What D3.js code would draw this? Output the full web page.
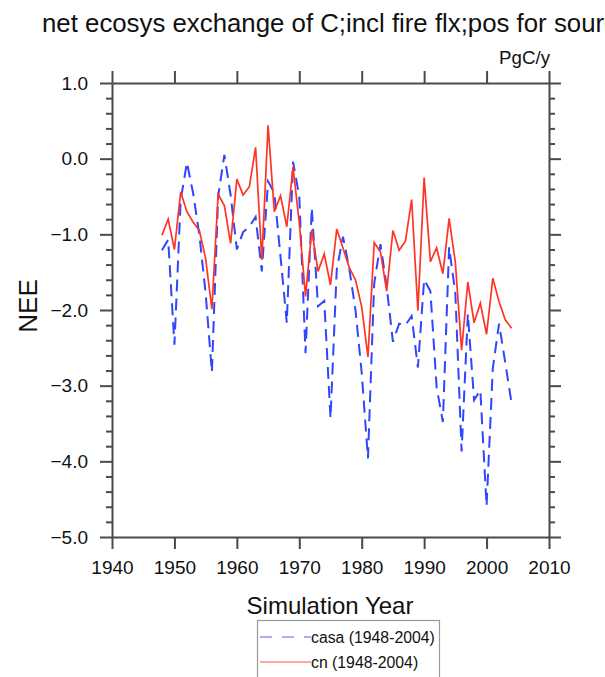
<!DOCTYPE html>
<html>
<head>
<meta charset="utf-8">
<script src="https://cdn.jsdelivr.net/npm/d3@7"></script>
<style>
  html, body { margin: 0; padding: 0; background: #fff; }
  svg { display: block; font-family: "Liberation Sans", Arial, Helvetica, sans-serif; }
</style>
</head>
<body>
<svg id="chart" width="605" height="677"></svg>
<script>
const years = [1948,1949,1950,1951,1952,1953,1954,1955,1956,1957,1958,1959,1960,1961,1962,1963,1964,1965,1966,1967,1968,1969,1970,1971,1972,1973,1974,1975,1976,1977,1978,1979,1980,1981,1982,1983,1984,1985,1986,1987,1988,1989,1990,1991,1992,1993,1994,1995,1996,1997,1998,1999,2000,2001,2002,2003,2004];

const casa = [-1.21,-1.07,-2.46,-0.55,-0.05,-0.46,-1.01,-1.78,-2.82,-0.50,0.05,-0.48,-1.20,-0.97,-0.90,-0.77,-1.49,-0.30,-0.45,-1.30,-2.17,-0.04,-0.50,-2.57,-0.65,-1.95,-1.88,-3.43,-1.47,-1.03,-1.45,-2.00,-2.83,-3.96,-1.65,-1.13,-1.69,-2.42,-2.18,-2.20,-2.08,-2.76,-1.60,-1.75,-3.02,-3.48,-1.17,-1.78,-3.87,-2.05,-3.19,-3.06,-4.59,-2.77,-2.18,-2.70,-3.23];

const cn = [-1.01,-0.80,-1.20,-0.44,-0.70,-0.84,-0.95,-1.32,-1.99,-0.47,-0.62,-1.12,-0.27,-0.48,-0.37,0.15,-1.34,0.44,-0.70,-0.49,-0.90,-0.11,-0.85,-1.82,-0.94,-1.49,-1.26,-1.67,-0.93,-1.18,-1.44,-1.60,-1.96,-2.62,-1.11,-1.23,-1.75,-0.95,-1.21,-1.09,-0.54,-2.01,-0.25,-1.36,-1.18,-1.52,-0.79,-1.37,-2.53,-1.63,-2.17,-1.91,-2.32,-1.58,-1.89,-2.13,-2.24];

const xTicks = [1940,1950,1960,1970,1980,1990,2000,2010];
const yTicks = [1.0,0.0,-1.0,-2.0,-3.0,-4.0,-5.0];
const yMinorTicks = [0.8,0.6,0.4,0.2,-0.2,-0.4,-0.6,-0.8,-1.2,-1.4,-1.6,-1.8,-2.2,-2.4,-2.6,-2.8,-3.2,-3.4,-3.6,-3.8,-4.2,-4.4,-4.6,-4.8];

const titleText = "net ecosys exchange of C;incl fire flx;pos for source";
const unitsText = "PgC/y";
const xTitle = "Simulation Year";
const yTitle = "NEE";
const seriesNames = ["casa (1948-2004)", "cn (1948-2004)"];

const svg = d3.select("#chart");
const L = 112, R = 549, T = 83, B = 537;
const x = d3.scaleLinear().domain([1940, 2010]).range([L, R]);
const y = d3.scaleLinear().domain([-5, 1]).range([B, T]);

const axisColor = "#4a4a4a";

// Lines
const line = d3.line().x((d, i) => x(years[i])).y(d => y(d));
svg.append("path").datum(casa)
  .attr("d", line).attr("fill", "none")
  .attr("stroke", "#2f45ff").attr("stroke-width", 2)
  .attr("stroke-dasharray", "12,7");
svg.append("path").datum(cn)
  .attr("d", line).attr("fill", "none")
  .attr("stroke", "#ff3424").attr("stroke-width", 1.7)
  .attr("stroke-linejoin", "miter");

// Axes
function styleAxis(g) {
  g.selectAll("path.domain").attr("stroke", axisColor).attr("stroke-width", 2);
  g.selectAll(".tick line").attr("stroke", axisColor).attr("stroke-width", 2);
  g.selectAll(".tick text").attr("fill", "#111").attr("font-size", 19)
    .attr("font-family", "Liberation Sans, Arial, sans-serif");
}

// minor y ticks
svg.append("g").attr("transform", `translate(${L},0)`)
  .call(d3.axisLeft(y).tickValues(yMinorTicks).tickSize(6).tickSizeOuter(0).tickFormat(""))
  .call(styleAxis).call(g => g.select(".domain").remove());
svg.append("g").attr("transform", `translate(${R},0)`)
  .call(d3.axisRight(y).tickValues(yMinorTicks).tickSize(6).tickSizeOuter(0).tickFormat(""))
  .call(styleAxis).call(g => g.select(".domain").remove());

svg.append("g").attr("transform", `translate(${L},0)`)
  .call(d3.axisLeft(y).tickValues(yTicks).tickSize(12).tickSizeOuter(0).tickPadding(12).tickFormat(d3.format(".1f")))
  .call(styleAxis);
svg.append("g").attr("transform", `translate(${R},0)`)
  .call(d3.axisRight(y).tickValues(yTicks).tickSize(12).tickSizeOuter(0).tickFormat(""))
  .call(styleAxis);
svg.append("g").attr("transform", `translate(0,${B})`)
  .call(d3.axisBottom(x).tickValues(xTicks).tickSize(12).tickSizeOuter(0).tickPadding(12).tickFormat(d3.format("d")))
  .call(styleAxis);
svg.append("g").attr("transform", `translate(0,${T})`)
  .call(d3.axisTop(x).tickValues(xTicks).tickSize(12).tickSizeOuter(0).tickFormat(""))
  .call(styleAxis);

// Titles
svg.append("text").attr("x", 42).attr("y", 32).attr("text-anchor", "start")
  .attr("font-size", 25.8).attr("fill", "#111").text(titleText);
svg.append("text").attr("x", 550).attr("y", 64).attr("text-anchor", "end")
  .attr("font-size", 18.7).attr("fill", "#111").text(unitsText);
svg.append("text").attr("x", 330).attr("y", 614).attr("text-anchor", "middle")
  .attr("font-size", 24).attr("fill", "#111").text(xTitle);
svg.append("text").attr("transform", "translate(36.5,306) rotate(-90)")
  .attr("text-anchor", "middle").attr("font-size", 26).attr("fill", "#111").text(yTitle);

// Legend
const lg = svg.append("g");
lg.append("rect").attr("x", 257.5).attr("y", 620.5).attr("width", 182).attr("height", 70)
  .attr("fill", "#fff").attr("stroke", "#999").attr("stroke-width", 1.2);
const legendItems = [
  {name: seriesNames[0], color: "#8a94ff", dash: "12,10", w: 1.3},
  {name: seriesNames[1], color: "#ff8a80", dash: null, w: 1.3}
];
legendItems.forEach((d, i) => {
  const yy = 637 + i * 25;
  lg.append("line").attr("x1", 260).attr("x2", 311).attr("y1", yy).attr("y2", yy)
    .attr("stroke", d.color).attr("stroke-width", d.w)
    .attr("stroke-dasharray", d.dash);
  lg.append("text").attr("x", 311).attr("y", yy + 5.5).attr("font-size", 15.8)
    .attr("fill", "#111").text(d.name);
});
</script>
</body>
</html>
